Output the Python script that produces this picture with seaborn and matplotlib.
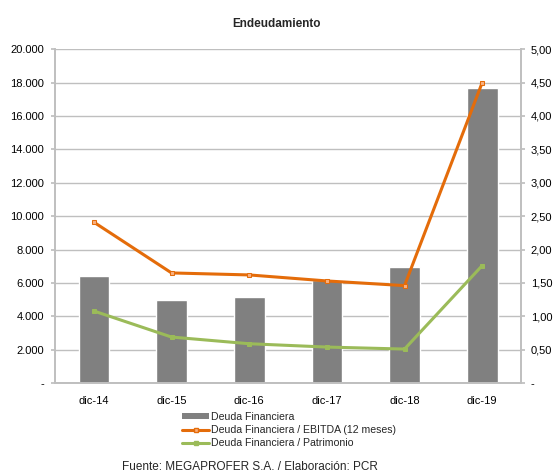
import matplotlib
matplotlib.use("Agg")
import matplotlib.pyplot as plt
import seaborn as sns
import pandas as pd
from matplotlib.ticker import FuncFormatter, MultipleLocator
from matplotlib.lines import Line2D
from matplotlib.patches import Patch

categories = ["dic-14", "dic-15", "dic-16", "dic-17", "dic-18", "dic-19"]
deuda = [6430, 4970, 5150, 6150, 6960, 17700]
deuda_ebitda = [2.41, 1.65, 1.62, 1.53, 1.46, 4.50]
deuda_patrimonio = [1.08, 0.69, 0.59, 0.54, 0.51, 1.76]

sns.set_theme(style="white")
plt.rcParams['font.family'] = ['Liberation Sans', 'DejaVu Sans']

df = pd.DataFrame({"cat": categories, "deuda": deuda,
                   "ebitda": deuda_ebitda, "patr": deuda_patrimonio})

fig = plt.figure(figsize=(5.53, 4.73), dpi=100)
ax = fig.add_axes([0.0995, 0.190, 0.8427, 0.706])

grid_c = "#BFBFBF"
sns.barplot(data=df, x="cat", y="deuda", color="#808080", saturation=1,
            width=0.395, ax=ax, zorder=2)
ax.set_ylim(0, 20000)
ax.yaxis.set_major_locator(MultipleLocator(2000))
ax.yaxis.set_major_formatter(FuncFormatter(
    lambda v, p: "-" if v == 0 else f"{int(v):,}".replace(",", ".")))
ax.grid(axis="y", color=grid_c, linewidth=1, zorder=0)
ax.set_axisbelow(True)
ax.set_xlabel("")
ax.set_ylabel("")
ax.set_xlim(-0.5, 5.5)

ax2 = ax.twinx()
sns.lineplot(data=df, x="cat", y="ebitda", color="#E46C0A", linewidth=2.2,
             marker="s", markersize=3, markeredgecolor="#E46C0A",
             markerfacecolor="#F9B080", ax=ax2, sort=False)
sns.lineplot(data=df, x="cat", y="patr", color="#9BBB59", linewidth=2.2,
             marker="s", markersize=3, markeredgecolor="#9BBB59", ax=ax2,
             sort=False)
ax2.set_ylim(0, 5)
ax2.yaxis.set_major_locator(MultipleLocator(0.5))
ax2.yaxis.set_major_formatter(FuncFormatter(
    lambda v, p: "-" if v == 0 else f"{v:.2f}".replace(".", ",")))
ax2.set_ylabel("")
ax2.set_xlim(-0.5, 5.5)

for a in (ax, ax2):
    for s in a.spines.values():
        s.set_color(grid_c)
    a.spines["top"].set_visible(False)
    a.tick_params(labelsize=8, colors="#000000", length=3, color=grid_c)
ax.tick_params(axis="y", left=True, pad=5)
ax.tick_params(axis="x", bottom=False, pad=6)
ax2.tick_params(axis="y", right=True, pad=4)
for t in ax.get_xticklabels() + ax.get_yticklabels() + ax2.get_yticklabels():
    t.set_color("#000000")

fig.text(0.5, 0.949, "Endeudamiento", ha="center", va="center",
         fontsize=8.5, fontweight="bold")

handles = [Patch(facecolor="#808080", edgecolor="none"),
           Line2D([0], [0], color="#E46C0A", lw=2.2, marker="s", markersize=3,
                  markerfacecolor="#F9B080"),
           Line2D([0], [0], color="#9BBB59", lw=2.2, marker="s", markersize=3)]
labels = ["Deuda Financiera", "Deuda Financiera / EBITDA (12 meses)",
          "Deuda Financiera / Patrimonio"]
fig.legend(handles, labels, loc="upper left", bbox_to_anchor=(0.329, 0.130),
           frameon=False, fontsize=7.6, handlelength=2.6, handleheight=0.5,
           handletextpad=0.12, labelspacing=0.32, borderpad=0, borderaxespad=0)

fig.text(0.452, 0.013, "Fuente: MEGAPROFER S.A. / Elaboración: PCR",
         ha="center", va="center", fontsize=8.5)

fig.savefig("out.png", dpi=100, facecolor="white")
